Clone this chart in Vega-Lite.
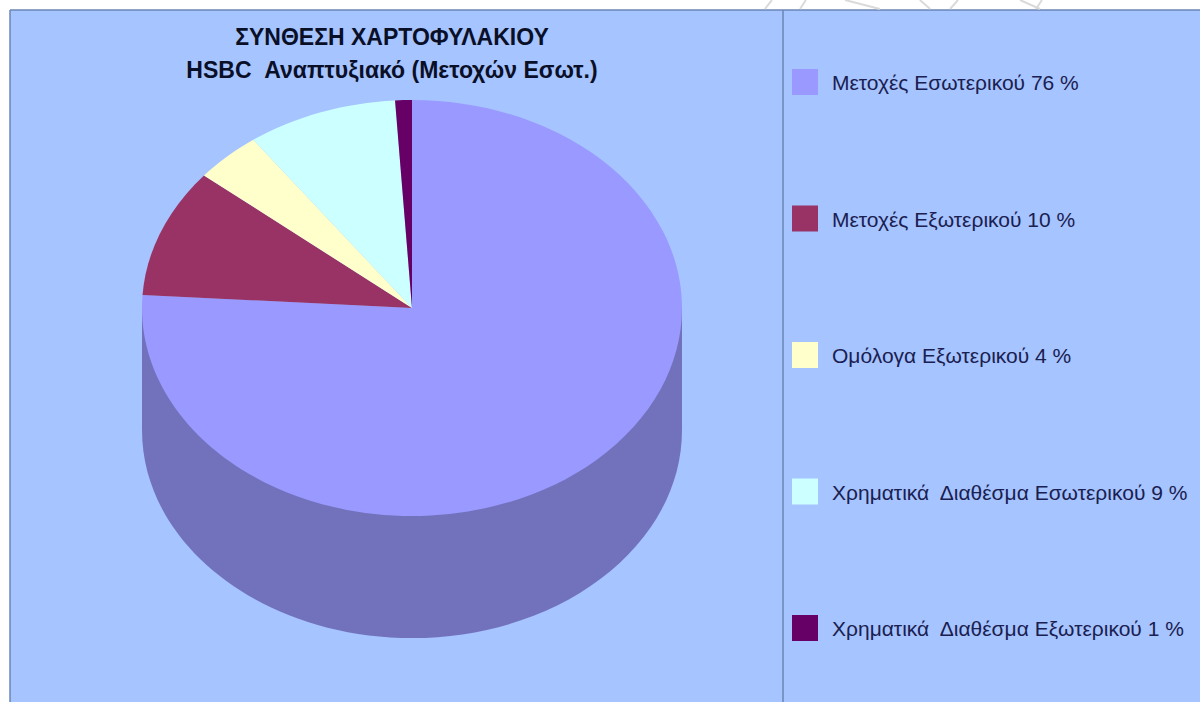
{
  "$schema": "https://vega.github.io/schema/vega-lite/v6.json",
  "width": 1190,
  "height": 692,
  "padding": {"left": 10, "top": 10, "right": 0, "bottom": 0},
  "autosize": {"type": "none"},
  "background": "#ffffff",
  "view": {"fill": "#A6C4FF", "stroke": null},
  "title": {
    "text": ["ΣΥΝΘΕΣΗ ΧΑΡΤΟΦΥΛΑΚΙΟΥ", "HSBC\u00a0 Αναπτυξιακό (Μετοχών Εσωτ.)"],
    "font": "Liberation Sans",
    "fontSize": 23,
    "fontWeight": "bold",
    "color": "#0A0F28",
    "lineHeight": 33,
    "anchor": "middle",
    "frame": "group",
    "baseline": "alphabetic",
    "offset": -102,
    "dx": -213
  },
  "datasets": {
    "holdings": [
      {"label": "Μετοχές Εσωτερικού 76 %", "value": 76, "order": 1},
      {"label": "Μετοχές Εξωτερικού 10 %", "value": 10, "order": 2},
      {"label": "Ομόλογα Εξωτερικού 4 %", "value": 4, "order": 3},
      {"label": "Χρηματικά\u00a0 Διαθέσμα Εσωτερικού 9 %", "value": 9, "order": 4},
      {"label": "Χρηματικά\u00a0 Διαθέσμα Εξωτερικού 1 %", "value": 1, "order": 5}
    ]
  },
  "layer": [
    {
      "description": "Panel edge on the left and divider before the legend",
      "data": {"values": [{"edge": -1.4889}, {"edge": 1.3741}]},
      "mark": {"type": "rule", "stroke": "#6A86B4", "strokeWidth": 1.5},
      "encoding": {"x": {"field": "edge", "type": "quantitative", "scale": {"domain": [-1.4889, 2.9185]}, "axis": null}}
    },
    {
      "description": "Panel edge along the top",
      "data": {"values": [{"edge": 1.1037}]},
      "mark": {"type": "rule", "stroke": "#6A86B4", "strokeWidth": 1.5},
      "encoding": {"y": {"field": "edge", "type": "quantitative", "scale": {"domain": [-1.4593, 1.1037]}, "axis": null}}
    },
    {
      "description": "Faint page pattern showing above the panel",
      "data": {
        "values": [
          {"x0": 1.333, "x1": 1.307, "y0": 1.1407, "y1": 1.1074},
          {"x0": 1.459, "x1": 1.437, "y0": 1.1407, "y1": 1.1074},
          {"x0": 1.604, "x1": 1.733, "y0": 1.1407, "y1": 1.1074},
          {"x0": 1.881, "x1": 1.919, "y0": 1.1407, "y1": 1.1074},
          {"x0": 2.022, "x1": 1.993, "y0": 1.1407, "y1": 1.1074},
          {"x0": 2.252, "x1": 2.326, "y0": 1.1407, "y1": 1.1074},
          {"x0": 2.333, "x1": 2.311, "y0": 1.1407, "y1": 1.1074}
        ]
      },
      "mark": {"type": "rule", "stroke": "#DADADA", "strokeWidth": 2},
      "encoding": {
        "x": {"field": "x0", "type": "quantitative", "scale": {"domain": [-1.4889, 2.9185]}, "axis": null},
        "x2": {"field": "x1"},
        "y": {"field": "y0", "type": "quantitative", "scale": {"domain": [-1.4593, 1.1037]}, "axis": null},
        "y2": {"field": "y1"}
      }
    },
    {
      "description": "Rim of the pie, drawn under the top face",
      "data": {"name": "holdings"},
      "transform": [{"filter": "datum.order === 1"}],
      "mark": {
        "type": "point",
        "filled": true,
        "opacity": 1,
        "size": 291600,
        "fill": "#7272BC",
        "shape": "M-1,0 L-1,0.4519 A1,0.7704 0 0 0 1,0.4519 L1,0 Z"
      },
      "encoding": {
        "x": {"datum": 0, "type": "quantitative", "scale": {"domain": [-1.4889, 2.9185]}, "axis": null},
        "y": {"datum": 0, "type": "quantitative", "scale": {"domain": [-1.4593, 1.1037]}, "axis": null}
      }
    },
    {
      "description": "Top face: one elliptical wedge per holding, clockwise from twelve o'clock",
      "data": {"name": "holdings"},
      "transform": [
        {"joinaggregate": [{"op": "sum", "field": "value", "as": "total"}]},
        {"window": [{"op": "sum", "field": "value", "as": "cum"}], "sort": [{"field": "order"}]},
        {"calculate": "2 * PI * (datum.cum - datum.value) / datum.total", "as": "a0"},
        {"calculate": "2 * PI * datum.cum / datum.total", "as": "a1"},
        {"calculate": "'M0,0 L' + sin(datum.a0) + ',' + (-0.7704 * cos(datum.a0)) + ' A1,0.7704 0 ' + (datum.a1 - datum.a0 > PI ? 1 : 0) + ' 1 ' + sin(datum.a1) + ',' + (-0.7704 * cos(datum.a1)) + ' Z'", "as": "wedge"}
      ],
      "mark": {"type": "point", "filled": true, "opacity": 1, "size": 291600},
      "encoding": {
        "x": {"datum": 0, "type": "quantitative", "scale": {"domain": [-1.4889, 2.9185]}, "axis": null},
        "y": {"datum": 0, "type": "quantitative", "scale": {"domain": [-1.4593, 1.1037]}, "axis": null},
        "shape": {"field": "wedge", "type": "nominal", "scale": null},
        "color": {
          "field": "label",
          "type": "nominal",
          "sort": null,
          "scale": {
            "domain": [
              "Μετοχές Εσωτερικού 76 %",
              "Μετοχές Εξωτερικού 10 %",
              "Ομόλογα Εξωτερικού 4 %",
              "Χρηματικά\u00a0 Διαθέσμα Εσωτερικού 9 %",
              "Χρηματικά\u00a0 Διαθέσμα Εξωτερικού 1 %"
            ],
            "range": ["#9999FF", "#993366", "#FFFFCC", "#CCFFFF", "#660066"]
          },
          "legend": {
            "title": null,
            "orient": "none",
            "legendX": 782,
            "legendY": 59,
            "symbolType": "square",
            "symbolSize": 676,
            "symbolStrokeWidth": 0,
            "symbolOpacity": 1,
            "rowPadding": 110.5,
            "labelFont": "Liberation Sans",
            "labelFontSize": 21,
            "labelColor": "#1A2050",
            "labelOffset": 14,
            "labelLimit": 400,
            "padding": 0,
            "encode": {"labels": {"update": {"dy": {"value": 2}}}}
          }
        }
      }
    }
  ],
  "config": {"style": {"cell": {"stroke": null}}}
}
